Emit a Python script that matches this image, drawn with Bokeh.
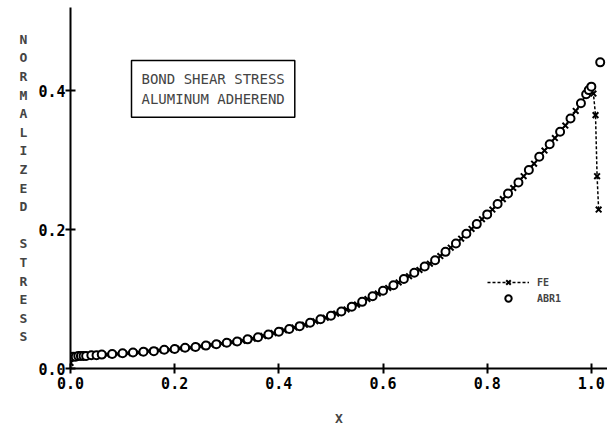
from bokeh.plotting import figure
from bokeh.models import (Range1d, Label, Legend, LegendItem, FixedTicker, ColumnDataSource,
                          NumeralTickFormatter)
from bokeh.embed import file_html
from bokeh.resources import INLINE

# ABR1 (circles)
abr_x = [0.0, 0.005, 0.01, 0.015, 0.02, 0.025, 0.03, 0.04, 0.05, 0.06, 0.08, 0.10, 0.12, 0.14, 0.16,
         0.18, 0.20, 0.22, 0.24, 0.26, 0.28, 0.30, 0.32, 0.34, 0.36, 0.38, 0.40, 0.42, 0.44,
         0.46, 0.48, 0.50, 0.52, 0.54, 0.56, 0.58, 0.60, 0.62, 0.64, 0.66, 0.68, 0.70, 0.72,
         0.74, 0.76, 0.78, 0.80, 0.82, 0.84, 0.86, 0.88, 0.90, 0.92, 0.94, 0.96, 0.98, 0.99,
         0.995, 1.0, 1.017]
abr_y = [0.017, 0.017, 0.017, 0.018, 0.018, 0.018, 0.018, 0.019, 0.019, 0.020, 0.021, 0.022, 0.023,
         0.024, 0.025, 0.027, 0.028, 0.030, 0.031, 0.033, 0.035, 0.037, 0.039, 0.042, 0.045,
         0.049, 0.053, 0.057, 0.061, 0.066, 0.071, 0.076, 0.082, 0.089, 0.096, 0.104, 0.112,
         0.120, 0.129, 0.138, 0.147, 0.156, 0.168, 0.180, 0.194, 0.208, 0.222, 0.237, 0.252,
         0.268, 0.286, 0.305, 0.323, 0.341, 0.360, 0.382, 0.395, 0.401, 0.406, 0.441]

# FE (x markers)
fe_x = [0.0, 0.01, 0.03, 0.05, 0.07, 0.09, 0.11, 0.13, 0.15, 0.17, 0.19, 0.21, 0.23, 0.25, 0.27,
        0.29, 0.31, 0.33, 0.35, 0.37, 0.39, 0.41, 0.43, 0.45, 0.47, 0.49, 0.51, 0.53, 0.55,
        0.57, 0.59, 0.61, 0.63, 0.65, 0.67, 0.69, 0.71, 0.73, 0.75, 0.77, 0.79, 0.81, 0.83,
        0.85, 0.87, 0.89, 0.91, 0.93, 0.95, 0.97, 0.99, 1.0, 1.004, 1.008, 1.011, 1.014]
fe_y = [0.008, 0.017, 0.018, 0.019, 0.020, 0.021, 0.022, 0.023, 0.025, 0.026, 0.027, 0.029, 0.030,
        0.032, 0.034, 0.036, 0.038, 0.040, 0.043, 0.047, 0.051, 0.055, 0.059, 0.063, 0.068,
        0.073, 0.079, 0.085, 0.092, 0.100, 0.108, 0.116, 0.124, 0.133, 0.142, 0.151, 0.162,
        0.174, 0.187, 0.201, 0.215, 0.229, 0.244, 0.260, 0.277, 0.295, 0.314, 0.332, 0.350,
        0.371, 0.394, 0.406, 0.396, 0.365, 0.277, 0.229]
fe_peak = 51  # index where the FE curve turns down

x_ticks = [0.0, 0.2, 0.4, 0.6, 0.8, 1.0]
y_ticks = [0.0, 0.2, 0.4]

FONT = "DejaVu Sans Mono"

p = figure(width=607, height=428, output_backend="svg", toolbar_location=None,
           x_range=Range1d(0, 1.031), y_range=Range1d(0, 0.52),
           min_border_left=70, min_border_right=0, min_border_top=7, min_border_bottom=57)
p.outline_line_color = None
p.grid.visible = False
p.background_fill_color = "white"

for ax in (p.xaxis[0], p.yaxis[0]):
    ax.axis_line_width = 2
    ax.major_tick_line_width = 2
    ax.major_tick_in = 5
    ax.major_tick_out = 5
    ax.minor_tick_line_color = None
    ax.major_label_text_font = FONT
    ax.major_label_text_font_style = "bold"
    ax.major_label_text_font_size = "15px"
    ax.major_label_text_color = "black"
    ax.axis_line_color = "black"
    ax.major_tick_line_color = "black"
    ax.formatter = NumeralTickFormatter(format="0.0")

p.xaxis.ticker = FixedTicker(ticks=x_ticks)
p.yaxis.ticker = FixedTicker(ticks=y_ticks)
p.xaxis.major_label_standoff = 3
p.yaxis.major_label_standoff = 0
p.xaxis.axis_label = "X"
p.xaxis.axis_label_text_font = FONT
p.xaxis.axis_label_text_font_style = "bold"
p.xaxis.axis_label_text_font_size = "13px"
p.xaxis.axis_label_standoff = 19

p.yaxis.axis_label = "N\nO\nR\nM\nA\nL\nI\nZ\nE\nD\n\nS\nT\nR\nE\nS\nS"
p.yaxis.axis_label_orientation = "horizontal"
p.yaxis.axis_label_text_font = FONT
p.yaxis.axis_label_text_font_style = "bold"
p.yaxis.axis_label_text_font_size = "13px"
p.yaxis.axis_label_text_line_height = 1.24
p.yaxis.axis_label_standoff = 8

fe_src_main = ColumnDataSource(dict(x=fe_x[:fe_peak + 1], y=fe_y[:fe_peak + 1]))
fe_src_drop = ColumnDataSource(dict(x=fe_x[fe_peak:], y=fe_y[fe_peak:]))

p.line("x", "y", source=fe_src_main, line_color="black", line_width=1.5)
fe_drop = p.line("x", "y", source=fe_src_drop, line_color="black", line_width=1.5, line_dash="3 2")
fe_pts = p.scatter(fe_x, fe_y, marker="x", size=8, line_color="black", line_width=2)
abr_pts = p.scatter(abr_x, abr_y, marker="circle", size=8, fill_color="white",
                    line_color="black", line_width=2)

legend = Legend(items=[LegendItem(label="FE", renderers=[fe_drop, fe_pts]),
                       LegendItem(label="ABR1", renderers=[abr_pts])],
                location=(417, 62), padding=0, spacing=0, margin=0,
                glyph_width=42, glyph_height=16, label_height=16, label_standoff=8,
                label_text_font=FONT, label_text_font_style="bold", label_text_font_size="10px",
                border_line_color=None, background_fill_alpha=0)
p.add_layout(legend)

box = Label(x=61, y=308, x_units="screen", y_units="screen", anchor="top_left",
            text="BOND SHEAR STRESS\nALUMINUM ADHEREND", text_font=FONT, text_font_size="14px",
            text_line_height=1.3, border_line_color="black", border_line_width=1.5,
            background_fill_color="white", padding=10)
p.add_layout(box)

open("out.html", "w").write(file_html(p, INLINE))
